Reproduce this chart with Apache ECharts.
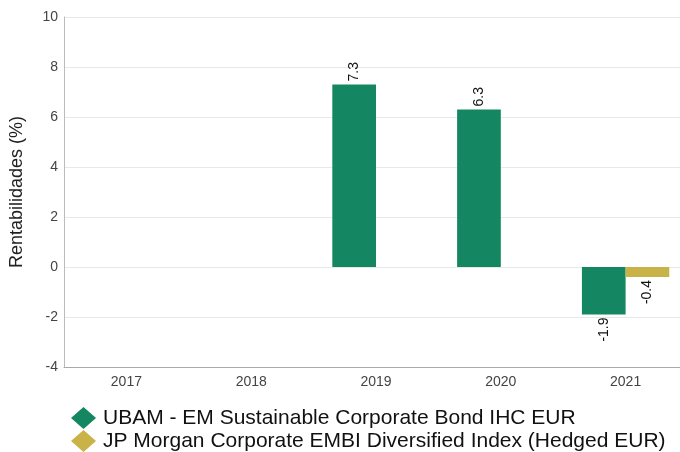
<!DOCTYPE html>
<html>
<head>
<meta charset="utf-8">
<script src="https://cdn.jsdelivr.net/npm/echarts@6/dist/echarts.min.js"></script>
<style>html,body{margin:0;padding:0;background:#fff;overflow:hidden}#c{width:692px;height:452px}</style>
</head>
<body>
<div id="c"></div>
<script>
var categories = ['2017', '2018', '2019', '2020', '2021'];
var fundName = 'UBAM - EM Sustainable Corporate Bond IHC EUR';
var indexName = 'JP Morgan Corporate EMBI Diversified Index (Hedged EUR)';
var fundValues = [null, null, 7.3, 6.3, -1.9];
var indexValues = [null, null, null, null, -0.4];
var yTicks = { min: -4, max: 10, interval: 2 };

var FONT = '"Liberation Sans", Arial, sans-serif';
function toItems(arr) {
  return arr.map(function (v) {
    if (v === null) return null;
    return {
      value: v,
      label: v < 0
        ? { position: 'bottom', align: 'right' }
        : { position: 'top', align: 'left' }
    };
  });
}
var labelBase = {
  show: true, rotate: 90, distance: 3, verticalAlign: 'middle',
  fontFamily: FONT, fontSize: 14, color: '#111',
  formatter: function (p) { return p.value.toFixed(1); }
};
var chart = echarts.init(document.getElementById('c'));
chart.setOption({
  animation: false,
  textStyle: { fontFamily: FONT },
  grid: { left: 60, right: 4, top: 17, bottom: 85, containLabel: false },
  legend: {
    orient: 'vertical', left: 66, top: 402, height: 60, itemGap: 1,
    icon: 'diamond', itemWidth: 25, itemHeight: 22,
    textStyle: { fontSize: 21, color: '#111', fontFamily: FONT, padding: [0, 0, 0, 2] },
    data: [fundName, indexName]
  },
  xAxis: {
    type: 'category', data: categories,
    axisLine: { onZero: false, lineStyle: { color: '#aaa' } },
    axisTick: { show: false },
    axisLabel: { fontSize: 14, color: '#444', margin: 8 }
  },
  yAxis: {
    type: 'value', min: yTicks.min, max: yTicks.max, interval: yTicks.interval,
    name: 'Rentabilidades (%)', nameLocation: 'middle', nameGap: 38, nameRotate: 90,
    nameTextStyle: { fontSize: 18, color: '#222' },
    axisLine: { show: true, lineStyle: { color: '#bbb' } },
    axisTick: { show: false },
    axisLabel: { fontSize: 14, color: '#444', margin: 6 },
    splitLine: { lineStyle: { color: '#e8e8e8' } }
  },
  series: [
    { name: fundName, type: 'bar', data: toItems(fundValues), barGap: 0, barCategoryGap: '30%',
      itemStyle: { color: '#148661' }, label: labelBase },
    { name: indexName, type: 'bar', data: toItems(indexValues), barGap: 0, barCategoryGap: '30%',
      itemStyle: { color: '#C9B348' }, label: labelBase }
  ]
});
</script>
</body>
</html>
